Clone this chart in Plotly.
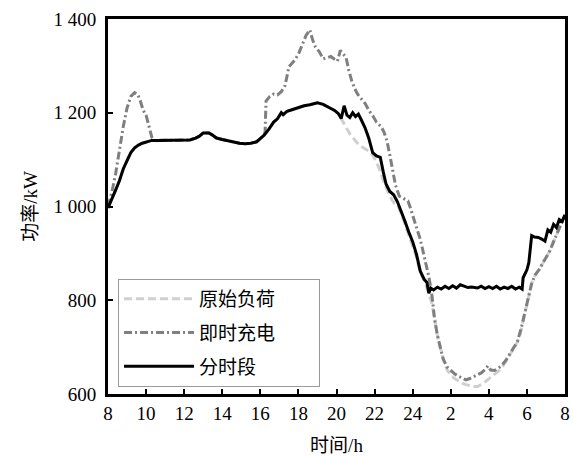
import plotly.graph_objects as go

# ---- data ----
x_ticks = [8, 10, 12, 14, 16, 18, 20, 22, 24, 26, 28, 30, 32]
x_tick_labels = ["8", "10", "12", "14", "16", "18", "20", "22", "24", "2", "4", "6", "8"]
y_ticks = [600, 800, 1000, 1200, 1400]
y_tick_labels = ["600", "800", "1 000", "1 200", "1 400"]
series_names = ["原始负荷", "即时充电", "分时段"]

# 分时段 (time-of-use charging)
tou_h = [8.0, 8.2, 8.4, 8.6, 8.8, 9.0, 9.2, 9.4, 9.6, 9.8, 10.0, 10.3, 10.6, 11.0, 11.5, 12.0,
         12.3, 12.6, 12.8, 13.0, 13.3, 13.5, 13.7, 14.0, 14.3, 14.6, 14.9, 15.2, 15.5, 15.8,
         16.0, 16.2, 16.45, 16.7, 16.9, 17.1, 17.2, 17.4, 17.7, 18.0, 18.3, 18.6, 18.8, 19.0,
         19.3, 19.6, 19.9, 20.1, 20.25, 20.4, 20.55, 20.7, 20.85, 21.0, 21.15, 21.3, 21.5,
         21.7, 21.9, 22.1, 22.3, 22.45, 22.6, 22.8, 23.0, 23.2, 23.4, 23.6, 23.8, 24.0, 24.2,
         24.4, 24.6, 24.75, 24.85, 24.95, 25.1, 25.3, 25.5, 25.7, 25.9, 26.1, 26.3, 26.5,
         26.7, 26.9, 27.1, 27.4, 27.6, 27.8, 28.0, 28.2, 28.4, 28.6, 28.8, 29.0, 29.2, 29.4,
         29.6, 29.75, 29.8, 30.0, 30.1, 30.25, 30.4, 30.6, 30.8, 30.95, 31.1, 31.25, 31.4,
         31.55, 31.7, 31.85, 32.0]
tou_p = [997, 1015, 1035, 1055, 1080, 1098, 1115, 1125, 1131, 1135, 1138, 1141, 1141, 1141, 1141, 1141,
         1142, 1146, 1150, 1157, 1157, 1152, 1146, 1143, 1140, 1137, 1135, 1134, 1135, 1138,
         1144, 1152, 1165, 1180, 1187, 1200, 1196, 1203, 1207, 1211, 1215, 1217, 1219, 1221,
         1218, 1212, 1205, 1198, 1188, 1215, 1195, 1190, 1200, 1192, 1197, 1185, 1168,
         1145, 1115, 1108, 1105, 1075, 1048, 1032, 1025, 1010, 990, 968, 945, 925, 898,
         862, 845, 838, 815, 826, 822, 828, 824, 830, 825, 831, 826, 833,
         830, 827, 828, 826, 830, 825, 829, 825, 830, 824, 828, 825, 830, 824,
         828, 824, 848, 865, 880, 938, 935, 934, 930, 926, 950, 945, 962,
         955, 972, 968, 982]

# 即时充电 (immediate charging)
imm_h = [8.0, 8.2, 8.4, 8.6, 8.8, 9.0, 9.2, 9.4, 9.55, 9.7, 9.85, 10.0, 10.15, 10.3, 10.45,
         10.6, 11.0, 11.5, 12.0, 12.3, 12.6, 12.8, 13.0, 13.3, 13.5, 13.7, 14.0, 14.3, 14.6,
         14.9, 15.2, 15.5, 15.8, 16.0, 16.2, 16.25, 16.3, 16.5, 16.7, 16.9, 17.1, 17.3, 17.5,
         17.8, 18.0, 18.2, 18.4, 18.6, 18.75, 18.9, 19.1, 19.3, 19.5, 19.7, 19.9, 20.05, 20.2,
         20.35, 20.5, 20.65, 20.8, 20.95, 21.1, 21.3, 21.5, 21.7, 21.9, 22.1, 22.35, 22.5,
         22.65, 22.8, 22.95, 23.1, 23.3, 23.55, 23.75, 23.9, 24.05, 24.2, 24.4, 24.55, 24.7,
         24.85, 25.0, 25.15, 25.3, 25.45, 25.6, 25.8, 26.0, 26.2, 26.4, 26.6, 26.8, 27.0,
         27.2, 27.4, 27.6, 27.8, 27.95, 28.1, 28.3, 28.5, 28.7, 28.9, 29.1, 29.3, 29.5, 29.7,
         29.9, 30.1, 30.25, 30.45, 30.65, 30.85, 31.0, 31.2, 31.4, 31.6, 31.8, 32.0]
imm_p = [1000, 1030, 1070, 1120, 1170, 1210, 1235, 1243, 1240, 1225, 1205, 1195, 1170, 1148, 1141,
         1141, 1141, 1141, 1141, 1142, 1146, 1150, 1157, 1157, 1152, 1146, 1143, 1140, 1137,
         1135, 1134, 1135, 1138, 1144, 1152, 1160, 1225, 1235, 1240, 1238, 1245, 1258, 1298,
         1312, 1325, 1345, 1365, 1377, 1355, 1340, 1330, 1315, 1318, 1320, 1314, 1310, 1333,
         1325, 1318, 1290, 1268, 1252, 1240, 1230, 1220, 1205, 1194, 1180, 1170, 1158,
         1140, 1110, 1075, 1045, 1022, 1016, 1012, 995, 972, 955, 930, 905, 878,
         850, 815, 760, 725, 700, 675, 658, 650, 643, 638, 634, 630, 633,
         637, 642, 645, 652, 660, 651, 650, 655, 662, 672, 685, 698, 712, 740,
         772, 810, 836, 855, 866, 880, 892, 905, 925, 945, 962, 982]

# 原始负荷 (original load)
base_h = [8.0, 8.2, 8.4, 8.6, 8.8, 9.0, 9.2, 9.4, 9.6, 9.8, 10.0, 10.3, 10.6, 11.0, 11.5, 12.0,
          12.3, 12.6, 12.8, 13.0, 13.3, 13.5, 13.7, 14.0, 14.3, 14.6, 14.9, 15.2, 15.5, 15.8,
          16.0, 16.2, 16.45, 16.7, 16.9, 17.1, 17.2, 17.4, 17.7, 18.0, 18.3, 18.6, 18.8, 19.0,
          19.3, 19.6, 19.9, 20.1, 20.25, 20.35, 20.5, 20.7, 20.9, 21.1, 21.3, 21.5, 21.7, 21.9,
          22.1, 22.3, 22.5, 22.7, 22.9, 23.05, 23.2, 23.4, 23.6, 23.8, 24.0, 24.2, 24.4, 24.6,
          24.8, 25.0, 25.15, 25.3, 25.45, 25.6, 25.8, 26.0, 26.2, 26.4, 26.6, 26.8, 27.0, 27.2,
          27.4, 27.6, 27.8, 28.0, 28.2, 28.4, 28.6, 28.8, 29.0, 29.2, 29.4, 29.6, 29.8, 30.0,
          30.25, 30.45, 30.65, 30.85, 31.0, 31.2, 31.4, 31.6, 31.8, 32.0]
base_p = [997, 1015, 1035, 1055, 1080, 1098, 1115, 1125, 1131, 1135, 1138, 1141, 1141, 1141, 1141, 1141,
          1142, 1146, 1150, 1157, 1157, 1152, 1146, 1143, 1140, 1137, 1135, 1134, 1135, 1138,
          1144, 1152, 1165, 1180, 1187, 1200, 1196, 1203, 1207, 1211, 1215, 1217, 1219, 1221,
          1218, 1212, 1205, 1198, 1188, 1180, 1170, 1155, 1145, 1135, 1128, 1122, 1118, 1110,
          1095, 1075, 1050, 1032, 1015, 1006, 1003, 985, 962, 940, 918, 892, 860, 842,
          820, 795, 760, 725, 700, 675, 652, 640, 633, 628, 623, 620, 618, 616,
          616, 620, 626, 632, 638, 645, 652, 663, 678, 690, 703, 720, 755, 790,
          836, 855, 866, 880, 892, 905, 925, 945, 962, 982]

FONT = "Liberation Serif, Times New Roman, Noto Sans CJK SC, serif"
PAD = "\u00a0" * 8  # widen legend box to match the reference

fig = go.Figure()
fig.add_trace(go.Scatter(x=base_h, y=base_p, mode="lines", name=series_names[0] + PAD, legendgroup="a",
                         line=dict(color="#cfcfcf", width=3, dash="8px,4px")))
fig.add_trace(go.Scatter(x=imm_h, y=imm_p, mode="lines", name=series_names[1], legendgroup="b",
                         line=dict(color="#7f7f7f", width=3, dash="8px,3px,2px,3px")))
fig.add_trace(go.Scatter(x=tou_h, y=tou_p, mode="lines", name=series_names[2], legendgroup="c",
                         line=dict(color="#000000", width=3)))

fig.update_layout(
    width=573, height=456,
    margin=dict(l=108, r=8, t=19, b=62),
    plot_bgcolor="white", paper_bgcolor="white",
    font=dict(family=FONT, size=19, color="black"),
    showlegend=True,
    legend=dict(x=0.022, y=0.307, xanchor="left", yanchor="top",
                bgcolor="white", bordercolor="#9a9a9a", borderwidth=1,
                font=dict(family=FONT, size=19, color="black"),
                tracegroupgap=6, traceorder="grouped",
                itemwidth=70),
    xaxis=dict(range=[8, 32], tickvals=x_ticks, ticktext=x_tick_labels,
               showline=True, linecolor="black", linewidth=3, mirror=True,
               ticks="inside", ticklen=5, tickwidth=2, tickcolor="black",
               ticklabelstandoff=0, automargin=False,
               showgrid=False, zeroline=False,
               title=dict(text="时间/h", standoff=31, font=dict(size=19))),
    yaxis=dict(range=[600, 1400], tickvals=y_ticks, ticktext=y_tick_labels,
               showline=True, linecolor="black", linewidth=3, mirror=True,
               ticks="inside", ticklen=5, tickwidth=2, tickcolor="black",
               ticklabelstandoff=5, automargin=False,
               showgrid=False, zeroline=False,
               title=dict(text="功率/kW", standoff=11, font=dict(size=19))),
)

fig.write_html("out.html")
